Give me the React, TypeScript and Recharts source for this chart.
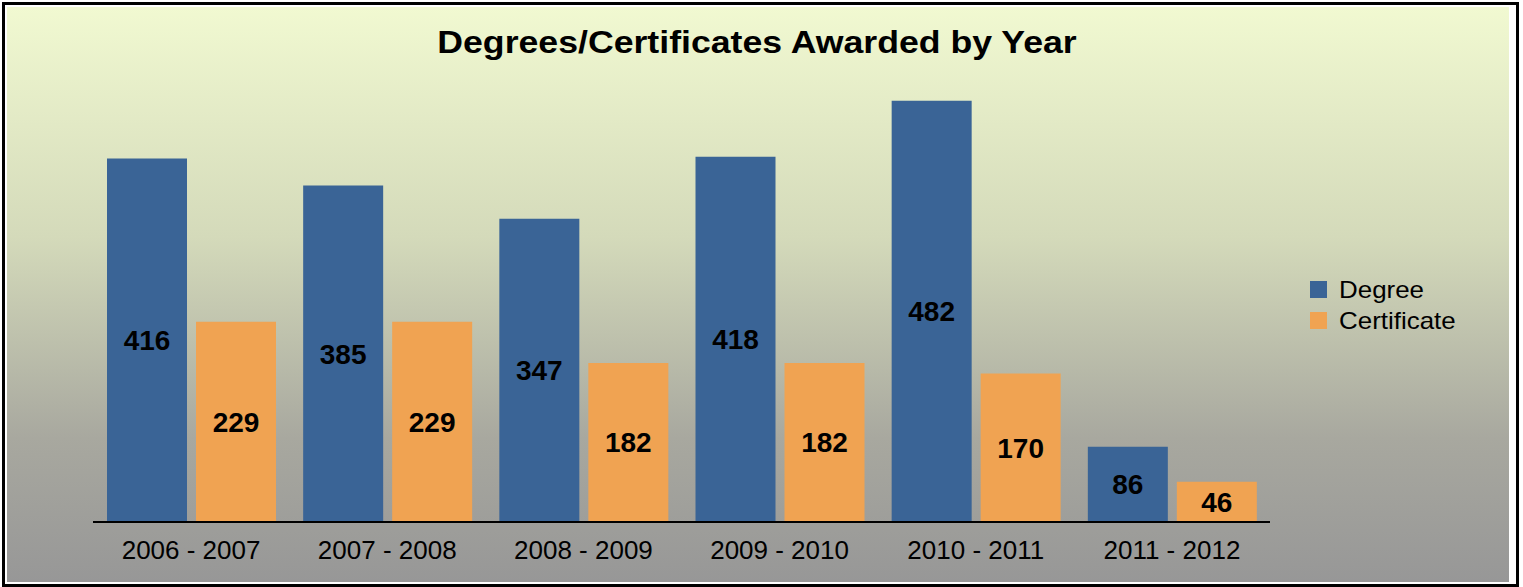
import { BarChart, Bar, XAxis, YAxis, LabelList } from 'recharts';

const years = ['2006 - 2007', '2007 - 2008', '2008 - 2009', '2009 - 2010', '2010 - 2011', '2011 - 2012'];
const degree = [416, 385, 347, 418, 482, 86];
const certificate = [229, 229, 182, 182, 170, 46];

const series = [
  { key: 'degree', name: 'Degree', color: '#3A6496' },
  { key: 'certificate', name: 'Certificate', color: '#F0A352' },
];

const data = years.map((year, i) => ({
  year,
  degree: degree[i],
  certificate: certificate[i],
}));

const font = '"Liberation Sans", Arial, sans-serif';

export default function App() {
  return (
    <div style={{ position: 'absolute', left: 0, top: 0, width: 1523, height: 587, fontFamily: font }}>
      {/* frame: black border, white gap, then the gradient */}
      <div
        style={{
          position: 'absolute',
          left: 2,
          top: 2,
          width: 1511,
          height: 579,
          border: '3px solid #000',
          background: '#fff',
        }}
      />
      <div
        style={{
          position: 'absolute',
          left: 7,
          top: 7,
          width: 1502,
          height: 575,
          background: 'linear-gradient(to bottom, #F1F9D1 0%, #D4DABA 40%, #A8A89F 75%, #979797 100%)',
        }}
      />

      <div
        style={{
          position: 'absolute',
          left: 0,
          top: 25,
          width: 1514,
          textAlign: 'center',
          fontSize: 31,
          fontWeight: 'bold',
          color: '#000',
          transform: 'scaleX(1.15)',
          transformOrigin: '757px 0',
        }}
      >
        Degrees/Certificates Awarded by Year
      </div>

      <div style={{ position: 'absolute', left: 0, top: 0 }}>
        <BarChart
          width={1523}
          height={587}
          data={data}
          margin={{ top: 85, right: 253, left: 93, bottom: 25 }}
          barSize={80}
          barGap={9}
        >
          <YAxis hide domain={[0, 500]} />
          <XAxis
            dataKey="year"
            height={40}
            axisLine={{ stroke: '#000', strokeWidth: 2 }}
            tickLine={false}
            tickMargin={13}
            tick={{ fill: '#000', fontSize: 26, fontFamily: font }}
          />
          {series.map((s) => (
            <Bar key={s.key} dataKey={s.key} name={s.name} fill={s.color} isAnimationActive={false}>
              <LabelList
                dataKey={s.key}
                position="center"
                fill="#000"
                fontSize={28}
                fontWeight="bold"
                fontFamily={font}
              />
            </Bar>
          ))}
        </BarChart>
      </div>

      <div style={{ position: 'absolute', left: 1310, top: 274, fontSize: 24, color: '#000' }}>
        {series.map((s) => (
          <div key={s.key} style={{ display: 'flex', alignItems: 'center', height: 31 }}>
            <div style={{ width: 17, height: 17, background: s.color, marginRight: 12 }} />
            <span style={{ display: 'inline-block', transform: 'scaleX(1.08)', transformOrigin: '0 0' }}>
              {s.name}
            </span>
          </div>
        ))}
      </div>
    </div>
  );
}
